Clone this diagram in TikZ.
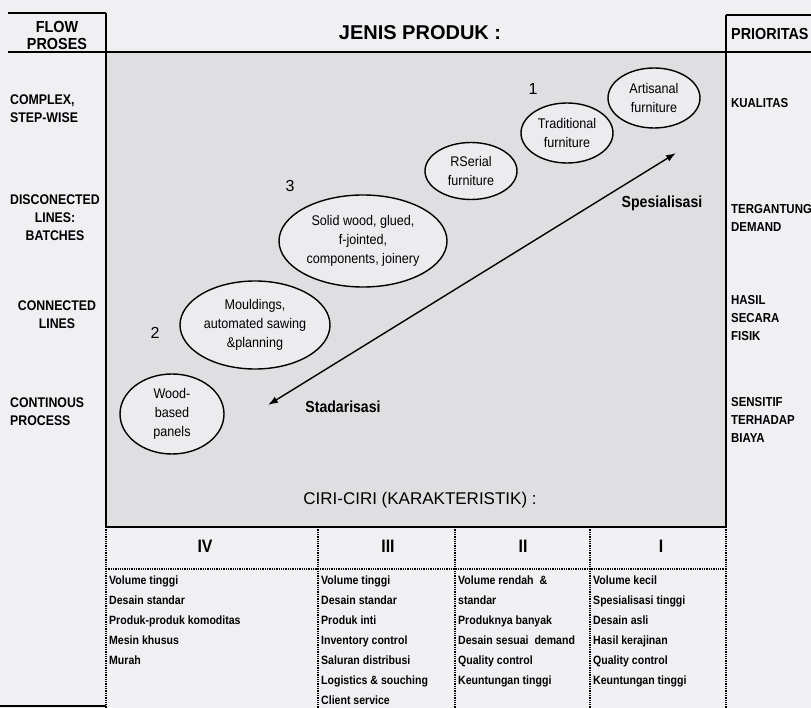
\documentclass[tikz,border=0pt]{standalone}
\usepackage{fontspec}
\setmainfont{Liberation Sans}
\newfontfamily\narrowfont[FakeStretch=0.9]{Liberation Sans}
\newfontfamily\labelfont[FakeStretch=0.88]{Liberation Sans}
\usetikzlibrary{arrows.meta,positioning,shapes.geometric}

\definecolor{paper}{RGB}{240,240,243}
\definecolor{panel}{RGB}{223,223,225}
\definecolor{bubble}{RGB}{236,236,238}

\begin{document}
\begin{tikzpicture}[
    x=1pt, y=-1pt,
    >=Latex,
    font=\narrowfont\fontsize{14}{19}\selectfont,
    heading/.style={font=\bfseries\fontsize{20}{22}\selectfont},
    colhead/.style={font=\narrowfont\bfseries\fontsize{16}{17}\selectfont, align=center},
    rowlabel/.style={font=\labelfont\bfseries\fontsize{14}{18}\selectfont, inner sep=0pt},
    prio/.style={font=\labelfont\bfseries\fontsize{13}{18}\selectfont, inner sep=0pt,
        align=left, anchor=west},
    trend/.style={font=\labelfont\bfseries\fontsize{16}{18}\selectfont, inner sep=0pt},
    product/.style={
        ellipse,
        draw,
        line width=1.4pt,
        fill=bubble,
        align=center,
        inner sep=0pt
    },
    stage/.style={font=\fontsize{16}{16}\selectfont},
    numeral/.style={font=\labelfont\bfseries\fontsize{18}{18}\selectfont},
    cell/.style={
        font=\labelfont\bfseries\fontsize{12}{20}\selectfont,
        align=left,
        anchor=north west,
        inner sep=0pt
    },
    frame/.style={line width=1.6pt},
    rule/.style={line width=2.4pt},
    tabline/.style={densely dotted, line width=1.3pt},
    twoway/.style={<->, line width=1.4pt, >={Latex[length=10pt,width=7pt]}}
]
    \fill[paper] (0,0) rectangle (811,708);
    \useasboundingbox (0,0) rectangle (811,708);

    % panel and frame
    \fill[panel] (106,52) rectangle (726,527);
    \draw[frame] (8,13) -- (106,13);
    \draw[frame] (726,15) -- (811,15);
    \draw[rule] (8,52) -- (811,52);
    \draw[frame] (106,13) -- (106,527) -- (726,527) -- (726,15);
    \draw[rule] (0,706) -- (106,706);

    % table under the panel
    \foreach \x in {106,318,455,590,726}
        \draw[tabline] (\x,527) -- (\x,708);
    \draw[tabline] (106,569) -- (726,569);

    % headers
    \node[colhead] (flow) at (57,35) {FLOW\\PROSES};
    \node[heading] (jenis) at (420,33) {JENIS PRODUK :};
    \node[colhead, anchor=west, inner sep=0pt] (prio) at (731,34) {PRIORITAS};
    \node[font=\fontsize{17}{17}\selectfont] (ciri) at (420,500) {CIRI-CIRI (KARAKTERISTIK) :};

    % flow process rows
    \node[rowlabel, align=left, anchor=west] (complex) at (10,109) {COMPLEX,\\STEP-WISE};
    \node[rowlabel, align=center] (batch) at (55,218) {DISCONECTED\\LINES:\\BATCHES};
    \node[rowlabel, align=center] (connect) at (57,315) {CONNECTED\\LINES};
    \node[rowlabel, align=left, anchor=west] (contin) at (10,412) {CONTINOUS\\PROCESS};

    % priorities
    \node[prio] (quality) at (731,103) {KUALITAS};
    \node[prio] (demand) at (731,218) {TERGANTUNG\\DEMAND};
    \node[prio] (physic) at (731,318) {HASIL\\SECARA\\FISIK};
    \node[prio] (cost) at (731,420) {SENSITIF\\TERHADAP\\BIAYA};

    % product types
    \node[product, minimum width=92, minimum height=60] (artisan) at (654,98) {Artisanal\\furniture};
    \node[product, minimum width=92, minimum height=60] (tradit) at (567,133) {Traditional\\furniture};
    \node[product, minimum width=92, minimum height=57] (serial) at (471,171) {RSerial\\furniture};
    \node[product, minimum width=168, minimum height=92] (solid) at (363,241) {Solid wood, glued,\\f-jointed,\\components, joinery};
    \node[product, minimum width=150, minimum height=88] (mould) at (255,325) {Mouldings,\\automated sawing\\\&planning};
    \node[product, minimum width=104, minimum height=80] (panels) at (172,414) {Wood-\\based\\panels};

    \node[stage] (one) at (533,89) {1};
    \node[stage] (three) at (290,186) {3};
    \node[stage] (two) at (155,333) {2};

    % standardisation / specialisation
    \coordinate (lowEnd) at (268,405);
    \coordinate (highEnd) at (676,153);
    \draw[twoway] (lowEnd) -- (highEnd);
    \node[trend] (special) at (662,203) {Spesialisasi};
    \node[trend] (standard) at (343,407) {Stadarisasi};

    % characteristics
    \node[numeral] (four) at (205,546) {IV};
    \node[numeral] (thr) at (388,546) {III};
    \node[numeral] (tw) at (523,546) {II};
    \node[numeral] (on) at (661,546) {I};

    \node[cell] (listIV) at (109,576) {Volume tinggi\\Desain standar\\Produk-produk komoditas\\Mesin khusus\\Murah};
    \node[cell] (listIII) at (321,576) {Volume tinggi\\Desain standar\\Produk inti\\Inventory control\\Saluran distribusi\\Logistics \& souching\\Client service};
    \node[cell] (listII) at (458,576) {Volume rendah \ \&\\standar\\Produknya banyak\\Desain sesuai \ demand\\Quality control\\Keuntungan tinggi};
    \node[cell] (listI) at (593,576) {Volume kecil\\Spesialisasi tinggi\\Desain asli\\Hasil kerajinan\\Quality control\\Keuntungan tinggi};
\end{tikzpicture}
\end{document}
